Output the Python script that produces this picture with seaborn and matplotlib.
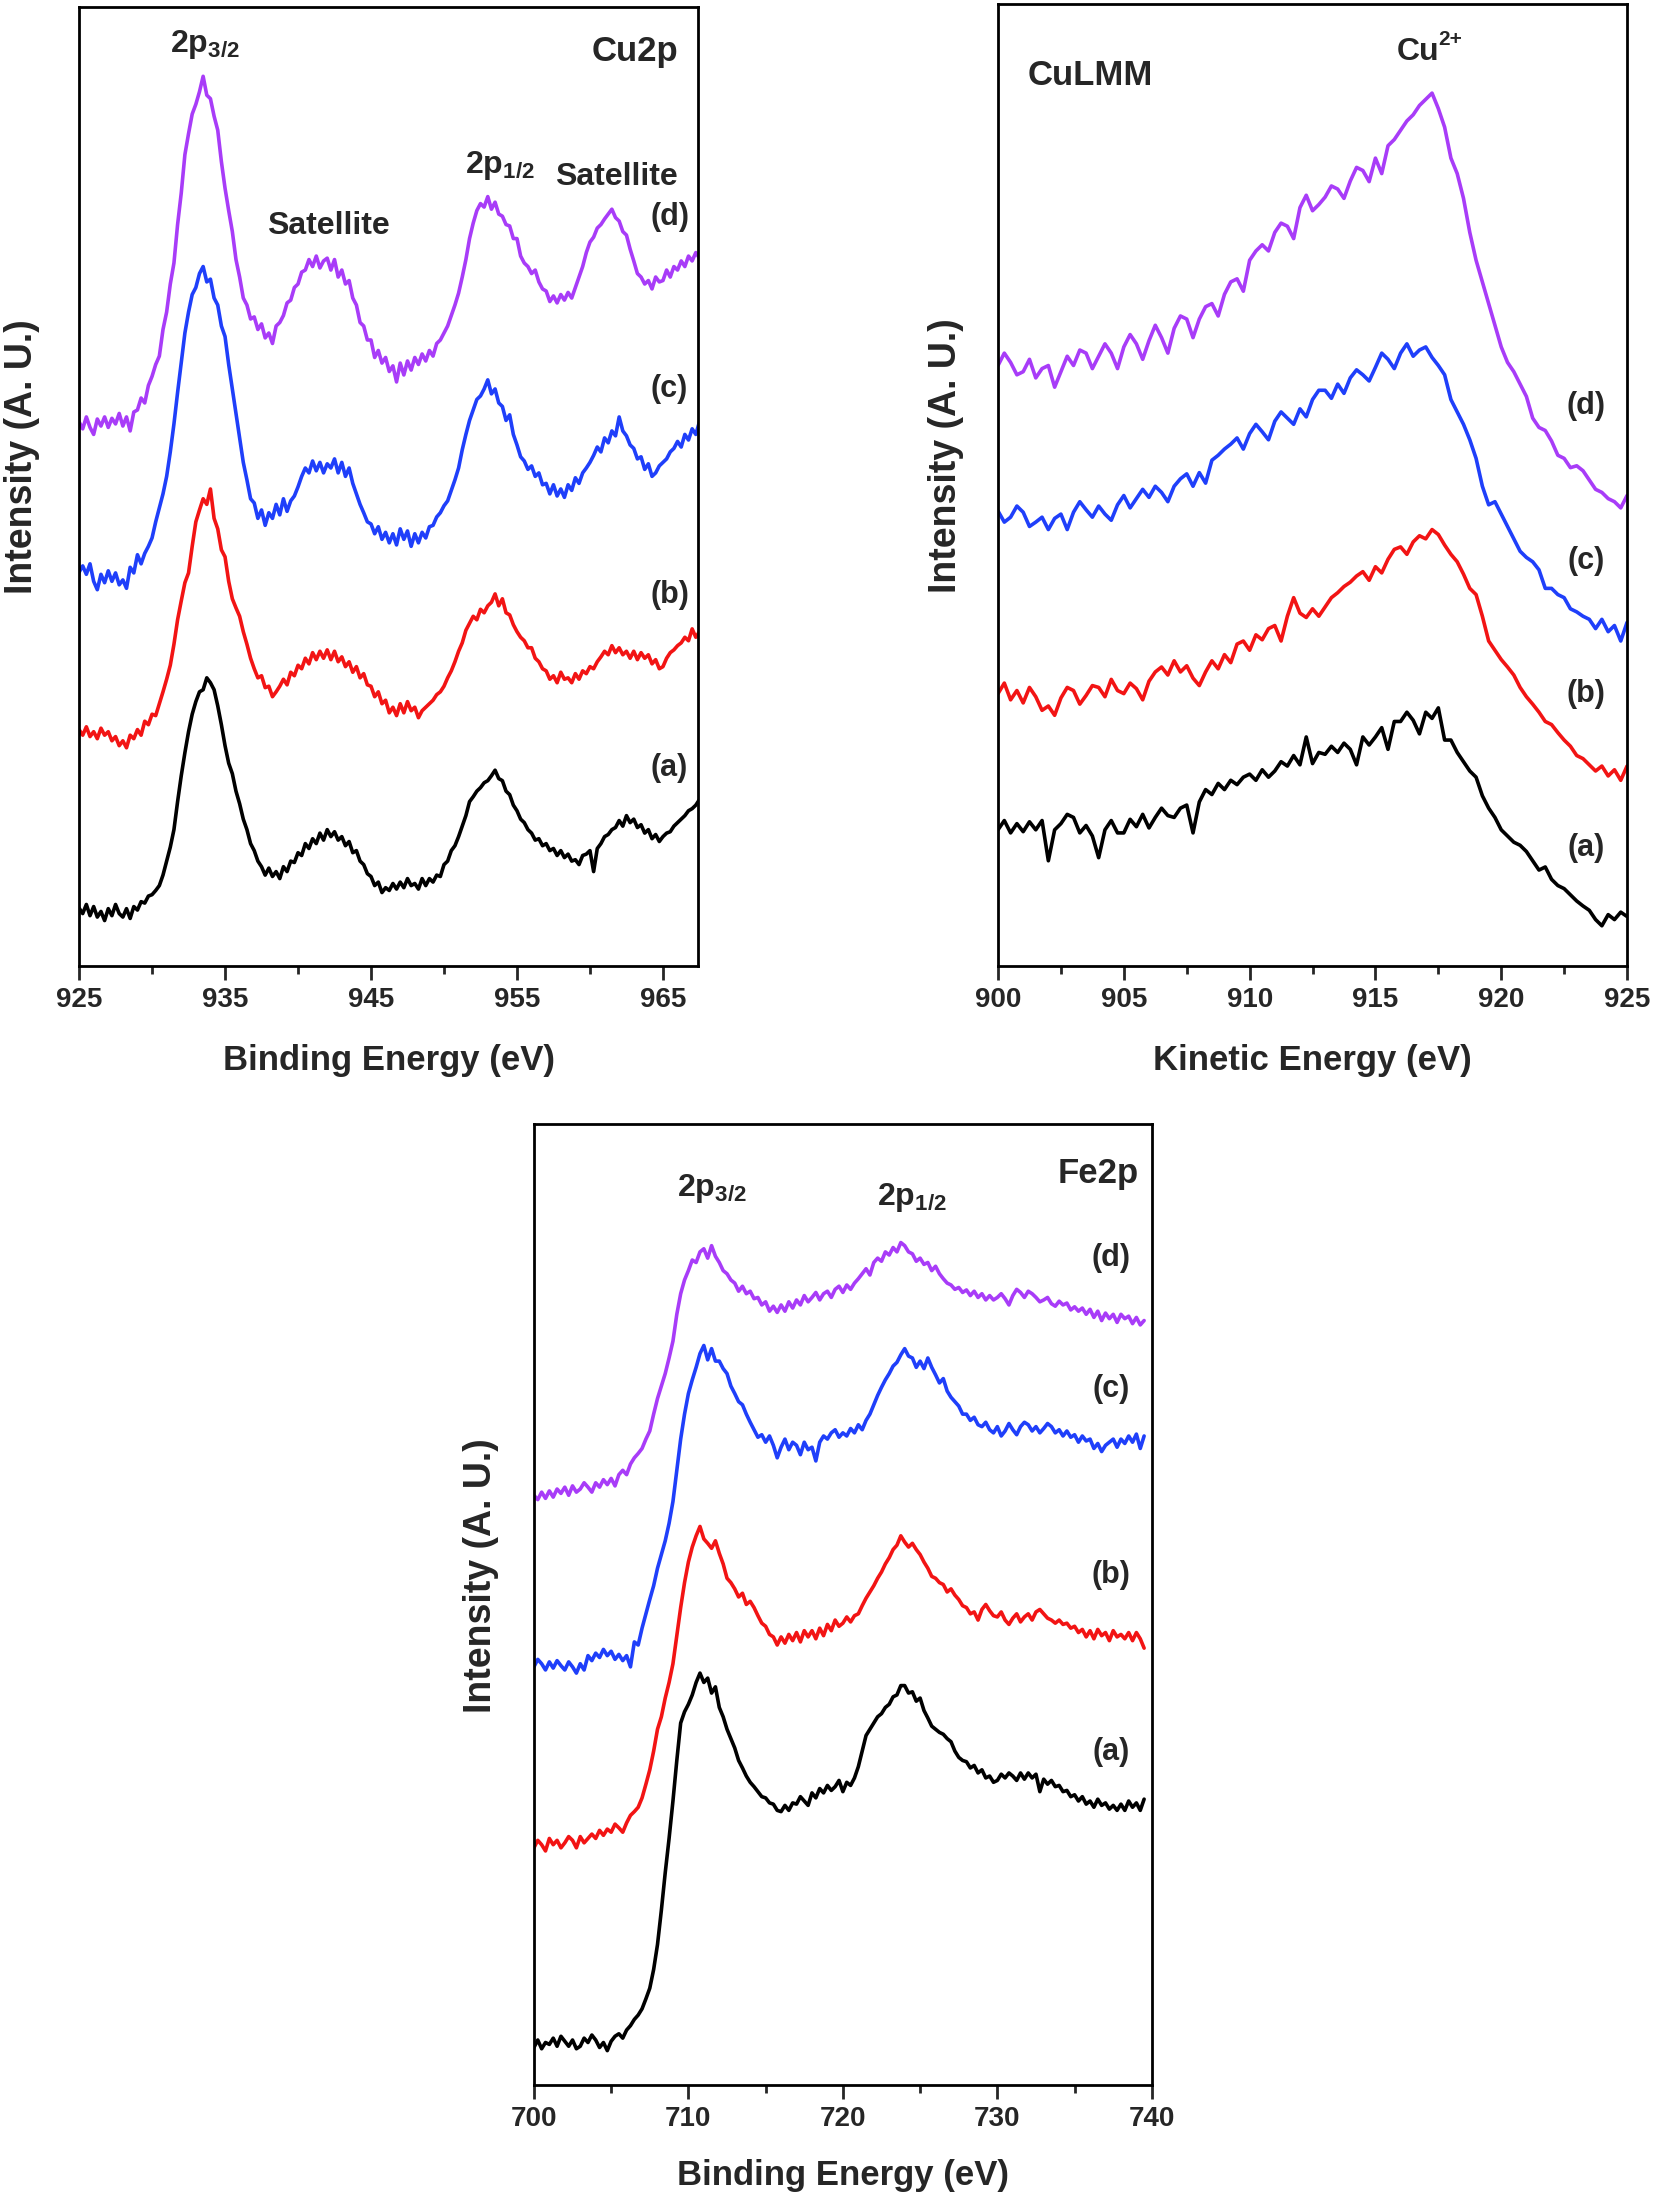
import numpy as np
import matplotlib
matplotlib.use("Agg")
import matplotlib.pyplot as plt
import seaborn as sns

sns.set_style("white")
plt.rcParams["font.family"] = ["Liberation Sans", "DejaVu Sans"]
plt.rcParams["font.weight"] = "bold"
plt.rcParams["mathtext.fontset"] = "custom"
plt.rcParams["mathtext.rm"] = "Liberation Sans:bold"
plt.rcParams["mathtext.it"] = "Liberation Sans:bold"
plt.rcParams["mathtext.bf"] = "Liberation Sans:bold"

# ---------------- Cu2p (binding energy 925 .. 967.5 eV, 0.25 eV step) ----------------
cu2p_start = 925.0
cu2p_d = [
    778, 768, 785, 770, 760, 782, 772, 785, 770, 783, 775, 790, 772, 785, 765, 792,
    795, 812, 805, 830, 843, 860, 872, 910, 935, 975, 1005, 1060, 1105, 1160, 1190, 1218,
    1232, 1250, 1272, 1245, 1240, 1215, 1195, 1150, 1112, 1080, 1050, 1010, 985, 955, 945, 925,
    928, 910, 918, 898, 905, 890, 915, 920, 930, 948, 952, 970, 975, 992, 995, 1010,
    1000, 1015, 998, 1008, 1012, 995, 1010, 985, 995, 975, 980, 955, 945, 920, 915, 895,
    895, 870, 880, 862, 870, 850, 858, 835, 862, 845, 865, 852, 870, 860, 875, 865,
    880, 872, 890, 895, 905, 915, 930, 945, 962, 985, 1010, 1040, 1062, 1080, 1090, 1085,
    1100, 1082, 1092, 1075, 1072, 1060, 1058, 1040, 1040, 1015, 1005, 1000, 990, 995, 978, 968,
    965, 950, 958, 948, 960, 952, 963, 955, 970, 985, 1000, 1020, 1035, 1042, 1055, 1060,
    1068, 1075, 1082, 1070, 1065, 1050, 1045, 1025, 1008, 990, 985, 975, 980, 968, 985, 978,
    980, 995, 985, 1000, 995, 1008, 1000, 1015, 1008, 1020, 1012,
]
cu2p_c = [
    563, 572, 560, 575, 550, 538, 560, 548, 565, 550, 562, 545, 552, 540, 570, 562,
    588, 575, 590, 600, 612, 635, 655, 675, 700, 735, 775, 820, 862, 905, 935, 960,
    970, 990, 1000, 978, 982, 955, 945, 915, 900, 860, 825, 790, 755, 720, 695, 668,
    662, 640, 652, 630, 648, 640, 660, 645, 668, 650, 665, 672, 685, 700, 712, 705,
    722, 708, 720, 705, 718, 712, 725, 705, 720, 700, 712, 690, 675, 660, 648, 635,
    632, 618, 628, 610, 620, 605, 618, 602, 625, 610, 622, 600, 618, 605, 620, 612,
    628, 630, 642, 648, 658, 665, 680, 695, 712, 738, 760, 780, 795, 810, 815, 825,
    838, 818, 825, 805, 800, 780, 788, 760, 745, 728, 722, 710, 715, 700, 705, 688,
    690, 675, 688, 672, 682, 670, 688, 680, 698, 690, 705, 712, 720, 730, 742, 735,
    755, 748, 765, 758, 785, 765, 758, 745, 740, 725, 728, 710, 718, 700, 705, 715,
    720, 725, 735, 740, 750, 742, 760, 752, 768, 760, 778,
]
cu2p_b = [
    338, 330, 342, 328, 335, 325, 340, 330, 335, 322, 328, 315, 322, 312, 330, 325,
    338, 330, 350, 345, 360, 358, 375, 392, 410, 430, 460, 495, 522, 548, 562, 600,
    635, 652, 668, 660, 682, 640, 625, 595, 585, 550, 525, 512, 500, 478, 460, 440,
    425, 412, 415, 398, 400, 385, 392, 400, 410, 402, 420, 415, 430, 425, 440, 432,
    448, 438, 450, 440, 452, 438, 450, 435, 442, 428, 435, 420, 428, 412, 418, 402,
    400, 385, 392, 375, 380, 362, 370, 358, 375, 362, 378, 365, 370, 355, 365, 370,
    375, 380, 388, 392, 400, 412, 422, 435, 450, 462, 480, 490, 500, 495, 510, 505,
    515, 520, 532, 515, 525, 505, 502, 488, 478, 470, 465, 455, 455, 440, 435, 425,
    422, 410, 415, 405, 420, 410, 412, 405, 418, 410, 422, 418, 428, 425, 435, 442,
    450, 445, 458, 448, 455, 445, 450, 440, 450, 438, 448, 440, 445, 432, 438, 425,
    428, 440, 448, 452, 458, 462, 470, 465, 482, 470, 478,
]
cu2p_a = [
    83, 75, 88, 72, 85, 70, 78, 65, 82, 72, 88, 75, 70, 82, 68, 85,
    80, 92, 90, 100, 102, 108, 115, 130, 150, 170, 195, 235, 272, 305, 335, 360,
    378, 392, 395, 412, 405, 395, 372, 345, 315, 290, 275, 250, 232, 210, 195, 175,
    165, 150, 142, 130, 140, 128, 135, 125, 142, 135, 150, 148, 162, 158, 175, 168,
    182, 175, 190, 180, 195, 185, 192, 180, 185, 172, 178, 162, 165, 150, 145, 132,
    128, 115, 120, 105, 112, 108, 118, 110, 120, 112, 125, 115, 118, 110, 125, 115,
    125, 120, 130, 128, 145, 150, 165, 172, 185, 200, 215, 235, 242, 250, 255, 262,
    265, 272, 280, 268, 265, 250, 245, 230, 222, 210, 205, 195, 190, 180, 182, 172,
    175, 165, 168, 158, 165, 155, 160, 150, 152, 145, 158, 160, 165, 135, 168, 175,
    185, 188, 195, 198, 208, 200, 215, 205, 210, 198, 202, 190, 195, 182, 188, 178,
    185, 190, 192, 200, 205, 210, 215, 222, 225, 230, 238,
]

# ---------------- CuLMM (kinetic energy 900 .. 925 eV, 0.25 eV step) ----------------
culmm_start = 900.0
culmm_d = [
    965, 985, 970, 950, 955, 975, 945, 960, 965, 930, 955, 980, 965, 990, 985, 960,
    980, 1000, 985, 960, 995, 1015, 1000, 975, 1005, 1030, 1010, 985, 1025, 1045, 1040, 1010,
    1040, 1060, 1065, 1045, 1080, 1100, 1105, 1085, 1135, 1150, 1160, 1150, 1180, 1195, 1190, 1170,
    1220, 1240, 1215, 1225, 1237, 1255, 1250, 1235, 1263, 1285, 1280, 1262, 1300, 1275, 1320, 1330,
    1345, 1360, 1370, 1385, 1395, 1405, 1380, 1350, 1300, 1275, 1235, 1180, 1135, 1100, 1065, 1030,
    995, 970, 955, 935, 915, 880, 865, 860, 843, 820, 815, 800, 803, 795, 780, 765,
    760, 750, 745, 735, 755,
]
culmm_c = [
    730, 712, 720, 738, 728, 705, 712, 720, 700, 718, 725, 700, 728, 745, 732, 720,
    738, 725, 715, 740, 755, 735, 750, 765, 752, 770, 760, 745, 770, 782, 790, 770,
    792, 775, 812, 820, 830, 838, 848, 830, 855, 870, 858, 845, 875, 890, 880, 870,
    895, 882, 910, 925, 925, 912, 935, 920, 945, 958, 950, 940, 962, 985, 975, 960,
    985, 1000, 980, 990, 995, 978, 965, 950, 910, 890, 870, 845, 815, 770, 740, 745,
    725, 705, 685, 665, 655, 648, 635, 605, 605, 595, 590, 572, 567, 560, 555, 540,
    555, 535, 545, 520, 550,
]
culmm_b = [
    435, 452, 425, 440, 420, 445, 430, 408, 415, 400, 428, 445, 440, 418, 432, 448,
    445, 430, 458, 440, 435, 452, 443, 425, 455, 470, 478, 465, 488, 470, 480, 460,
    448, 470, 488, 475, 498, 485, 515, 520, 505, 530, 522, 540, 545, 520, 560, 590,
    565, 558, 572, 560, 575, 590, 598, 608, 615, 625, 632, 618, 640, 630, 652, 668,
    672, 660, 680, 690, 685, 700, 692, 675, 660, 648, 628, 605, 595, 560, 520, 505,
    490, 478, 465, 445, 430, 418, 405, 390, 385, 372, 360, 350, 335, 330, 320, 310,
    318, 302, 312, 295, 318,
]
culmm_a = [
    215, 230, 210, 225, 212, 228, 215, 230, 165, 215, 225, 240, 235, 210, 222, 205,
    170, 215, 230, 210, 210, 232, 220, 240, 218, 235, 250, 238, 235, 250, 255, 210,
    260, 280, 272, 290, 280, 295, 288, 300, 305, 295, 312, 300, 310, 325, 318, 335,
    320, 365, 322, 340, 337, 350, 340, 355, 345, 320, 365, 352, 365, 380, 345, 390,
    390, 405, 392, 370, 405, 395, 412, 360, 360, 340, 325, 310, 300, 270, 250, 235,
    215, 205, 195, 190, 180, 165, 150, 155, 135, 125, 120, 110, 100, 92, 85, 70,
    60, 78, 70, 82, 75,
]

# ---------------- Fe2p (binding energy 700 .. 739.5 eV, 0.25 eV step) ----------------
fe2p_start = 700.0
fe2p_d = [
    945, 938, 950, 940, 952, 942, 955, 948, 958, 945, 960, 950, 955, 965, 958, 950,
    965, 958, 970, 962, 972, 960, 978, 985, 978, 995, 1005, 1012, 1020, 1035, 1048, 1075,
    1100, 1120, 1140, 1165, 1192, 1235, 1268, 1290, 1305, 1322, 1318, 1335, 1340, 1325, 1345, 1328,
    1318, 1305, 1300, 1290, 1285, 1272, 1280, 1268, 1272, 1260, 1262, 1250, 1255, 1240, 1248, 1238,
    1250, 1240, 1255, 1245, 1258, 1250, 1265, 1255, 1262, 1270, 1258, 1268, 1272, 1262, 1275, 1280,
    1270, 1282, 1275, 1285, 1292, 1300, 1308, 1298, 1318, 1325, 1320, 1335, 1330, 1342, 1335, 1350,
    1345, 1335, 1332, 1320, 1325, 1315, 1318, 1305, 1312, 1300, 1292, 1285, 1282, 1275, 1278, 1270,
    1274, 1265, 1272, 1262, 1268, 1258, 1265, 1258, 1262, 1268, 1260, 1250, 1265, 1275, 1270, 1262,
    1272, 1268, 1262, 1255, 1258, 1262, 1252, 1248, 1256, 1250, 1253, 1242, 1247, 1240, 1245, 1235,
    1243, 1230, 1240, 1225, 1237, 1228, 1235, 1222, 1235, 1228, 1232, 1220, 1230, 1218, 1225,
]
fe2p_c = [
    670, 682, 675, 665, 678, 668, 680, 672, 665, 678, 670, 660, 675, 665, 688, 680,
    692, 685, 698, 688, 695, 682, 690, 680, 688, 670, 710, 705, 732, 755, 778, 800,
    828, 850, 872, 900, 935, 985, 1035, 1075, 1108, 1130, 1150, 1172, 1185, 1162, 1180, 1160,
    1160, 1148, 1140, 1120, 1108, 1095, 1090, 1075, 1062, 1050, 1038, 1042, 1030, 1040, 1025, 1005,
    1022, 1035, 1018, 1030, 1025, 1010, 1030, 1018, 1022, 1000, 1030, 1040, 1035, 1045, 1050, 1038,
    1045, 1040, 1052, 1045, 1058, 1050, 1065, 1075, 1090, 1105, 1118, 1130, 1140, 1152, 1158, 1170,
    1180, 1168, 1165, 1150, 1160, 1148, 1165, 1150, 1138, 1125, 1132, 1112, 1102, 1095, 1088, 1075,
    1075, 1065, 1070, 1058, 1055, 1062, 1050, 1045, 1055, 1040, 1048, 1060, 1050, 1042, 1055, 1062,
    1058, 1048, 1055, 1045, 1052, 1060, 1055, 1045, 1050, 1040, 1048, 1038, 1042, 1030, 1040, 1032,
    1035, 1020, 1028, 1015, 1025, 1030, 1035, 1022, 1035, 1028, 1040, 1030, 1043, 1020, 1040,
]
fe2p_b = [
    380, 392, 385, 375, 395, 385, 392, 380, 388, 398, 392, 380, 398, 388, 395, 402,
    395, 408, 400, 410, 405, 418, 412, 405, 420, 432, 438, 445, 460, 482, 505, 535,
    570, 590, 620, 645, 675, 720, 765, 805, 838, 862, 880, 895, 875, 868, 860, 872,
    852, 835, 812, 805, 795, 782, 788, 770, 775, 765, 752, 740, 735, 722, 718, 705,
    718, 708, 722, 712, 725, 710, 728, 718, 728, 715, 732, 720, 738, 728, 745, 735,
    740, 750, 742, 752, 755, 768, 780, 790, 800, 812, 822, 835, 845, 858, 865, 880,
    870, 862, 868, 858, 850, 838, 828, 815, 812, 805, 802, 790, 795, 785, 778, 768,
    765, 755, 758, 745, 762, 770, 760, 752, 750, 758, 745, 738, 748, 755, 742, 750,
    755, 745, 758, 762, 755, 748, 745, 740, 745, 738, 740, 732, 735, 725, 730, 718,
    728, 715, 730, 720, 725, 712, 728, 718, 722, 715, 725, 712, 725, 715, 700,
]
fe2p_a = [
    60, 72, 58, 68, 65, 75, 62, 78, 70, 62, 72, 58, 62, 75, 68, 80,
    72, 60, 68, 55, 70, 78, 82, 75, 88, 95, 105, 112, 122, 138, 155, 185,
    225, 280, 340, 395, 455, 520, 580, 598, 610, 625, 645, 660, 645, 652, 628, 638,
    605, 590, 570, 555, 540, 520, 508, 495, 485, 478, 470, 462, 460, 452, 450, 440,
    438, 448, 440, 452, 450, 462, 455, 448, 468, 460, 475, 468, 480, 472, 478, 488,
    470, 485, 480, 492, 510, 535, 560, 570, 580, 590, 595, 605, 610, 622, 625, 640,
    640, 628, 630, 615, 620, 600, 588, 575, 570, 565, 562, 555, 550, 535, 525, 520,
    518, 508, 512, 500, 505, 492, 495, 485, 488, 498, 492, 500, 495, 488, 500, 490,
    500, 492, 498, 470, 490, 482, 488, 478, 480, 470, 472, 462, 465, 455, 462, 450,
    455, 445, 458, 448, 452, 442, 448, 440, 450, 440, 455, 445, 452, 440, 458,
]

series_names = ["a", "b", "c", "d"]
series_colors = {"a": "#000000", "b": "#F21414", "c": "#1F3FFA", "d": "#A83CF8"}
step = 0.25


def energies(start, values):
    return start + step * np.arange(len(values))


fig = plt.figure(figsize=(16.54, 22.0), dpi=100)
ax1 = fig.add_axes([0.0478, 0.5609, 0.3742, 0.4359])
ax2 = fig.add_axes([0.6034, 0.5609, 0.3803, 0.4373])
ax3 = fig.add_axes([0.3228, 0.0523, 0.3736, 0.4368])

panels = [
    (ax1, cu2p_start, {"a": cu2p_a, "b": cu2p_b, "c": cu2p_c, "d": cu2p_d}),
    (ax2, culmm_start, {"a": culmm_a, "b": culmm_b, "c": culmm_c, "d": culmm_d}),
    (ax3, fe2p_start, {"a": fe2p_a, "b": fe2p_b, "c": fe2p_c, "d": fe2p_d}),
]
for ax, start, data in panels:
    for name in series_names:
        vals = data[name]
        sns.lineplot(x=energies(start, vals), y=vals, ax=ax, color=series_colors[name],
                     linewidth=2.6, legend=False, estimator=None)


def style(ax, xlim, ylim, majors, minors, xlabel, ylab_x, ylab_y, xlab_y):
    ax.set_xlim(*xlim)
    ax.set_ylim(*ylim)
    ax.set_xticks(majors)
    ax.set_xticklabels([str(int(v)) for v in majors])
    ax.set_xticks(minors, minor=True)
    ax.set_yticks([])
    for sp in ax.spines.values():
        sp.set_visible(True)
        sp.set_linewidth(2.0)
        sp.set_color("black")
    ax.tick_params(axis="x", which="major", direction="out", length=10, width=2.0,
                   pad=5, labelsize=20, bottom=True, top=False)
    ax.tick_params(axis="x", which="minor", direction="out", length=6, width=2.0,
                   bottom=True, top=False)
    for lab in ax.get_xticklabels():
        lab.set_fontweight("bold")
    ax.set_xlabel(xlabel, fontsize=25, fontweight="bold")
    ax.xaxis.set_label_coords(0.5, xlab_y)
    ax.set_ylabel("Intensity (A. U.)", fontsize=27, fontweight="bold")
    ax.yaxis.set_label_coords(ylab_x, ylab_y)
    ax.grid(False)


style(ax1, (925, 967.4), (0, 1371), [925, 935, 945, 955, 965], [930, 940, 950, 960],
      "Binding Energy (eV)", -0.063, 0.531, -0.081)
style(ax2, (900, 925), (-5, 1549), [900, 905, 910, 915, 920, 925],
      [902.5, 907.5, 912.5, 917.5, 922.5], "Kinetic Energy (eV)", -0.054, 0.531, -0.081)
style(ax3, (700, 740), (0, 1540), [700, 710, 720, 730, 740], [705, 715, 725, 735],
      "Binding Energy (eV)", -0.057, 0.530, -0.077)

kw = dict(ha="center", va="center", fontweight="bold")
# Cu2p annotations
ax1.text(933.6, 1318, r"2p$_{3/2}$", fontsize=23, **kw)
ax1.text(963.1, 1308, "Cu2p", fontsize=25, **kw)
ax1.text(942.05, 1058, "Satellite", fontsize=23, **kw)
ax1.text(953.85, 1145, r"2p$_{1/2}$", fontsize=23, **kw)
ax1.text(961.8, 1128, "Satellite", fontsize=23, **kw)
for lab, yy in zip(["(d)", "(c)", "(b)", "(a)"], [1071, 825, 530, 283]):
    ax1.text(965.45, yy, lab, fontsize=22, **kw)

# CuLMM annotations
ax2.text(916.68, 1472, "Cu", fontsize=23, **kw)
ax2.text(917.5, 1492, "2+", fontsize=15, ha="left", va="center", fontweight="bold")
ax2.text(903.68, 1433, "CuLMM", fontsize=25, **kw)
for lab, yy in zip(["(d)", "(c)", "(b)", "(a)"], [900, 650, 435, 185]):
    ax2.text(923.37, yy, lab, fontsize=22, **kw)

# Fe2p annotations
ax3.text(711.5, 1437, r"2p$_{3/2}$", fontsize=23, **kw)
ax3.text(724.46, 1422, r"2p$_{1/2}$", fontsize=23, **kw)
ax3.text(736.5, 1460, "Fe2p", fontsize=25, **kw)
for lab, yy in zip(["(d)", "(c)", "(b)", "(a)"], [1325, 1115, 818, 533]):
    ax3.text(737.35, yy, lab, fontsize=22, **kw)

fig.savefig("out.png", dpi=100, facecolor="white")
